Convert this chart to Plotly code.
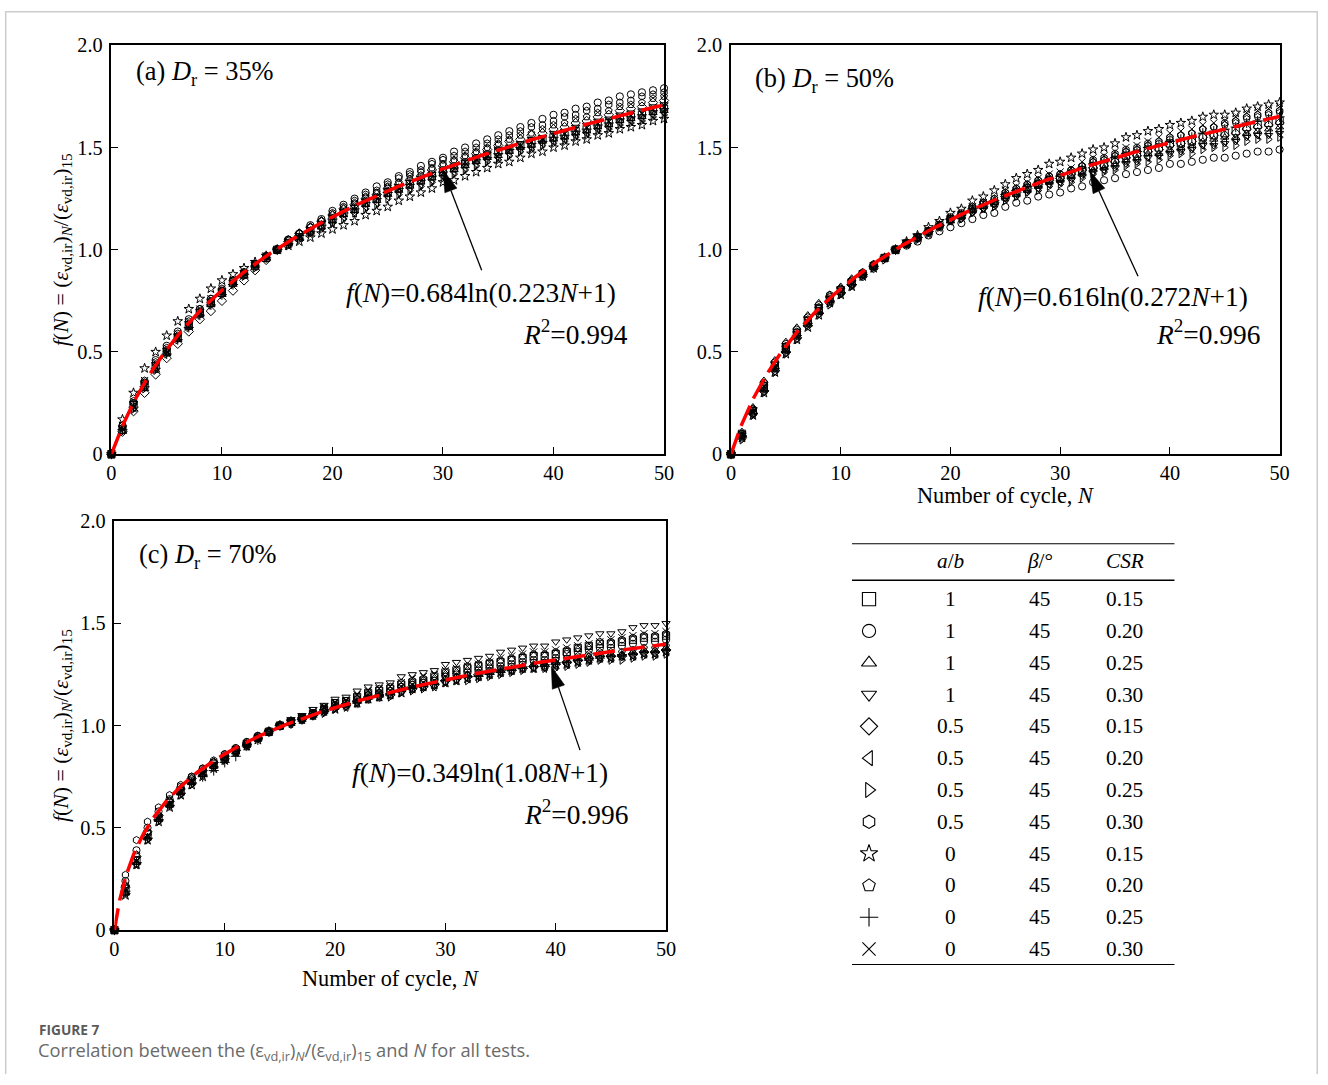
import numpy as np
import plotly.graph_objects as go

# ---------------- data ----------------
N = list(range(51))

# Panel (a) Dr = 35 %
a_sq = [0, .12, .24, .34, .43, .50, .57, .63, .69, .74, .79, .84, .88, .92, .96, 1.00,
        1.03, 1.06, 1.09, 1.12, 1.15, 1.18, 1.20, 1.23, 1.25, 1.28, 1.30, 1.32, 1.34, 1.36, 1.38,
        1.40, 1.42, 1.44, 1.46, 1.48, 1.49, 1.51, 1.52, 1.54, 1.55, 1.56, 1.58, 1.59, 1.61, 1.62,
        1.64, 1.65, 1.66, 1.68, 1.69]
a_ci = [0, .14, .25, .35, .46, .53, .60, .66, .71, .76, .80, .85, .89, .93, .97, 1.00,
        1.05, 1.08, 1.12, 1.15, 1.19, 1.22, 1.25, 1.28, 1.31, 1.33, 1.36, 1.38, 1.41, 1.43, 1.45,
        1.48, 1.50, 1.52, 1.54, 1.56, 1.58, 1.60, 1.62, 1.64, 1.66, 1.67, 1.69, 1.70, 1.72, 1.73,
        1.75, 1.76, 1.77, 1.78, 1.79]
a_tu = [0, .11, .22, .32, .41, .49, .56, .62, .68, .73, .78, .83, .87, .92, .96, 1.00,
        1.03, 1.06, 1.09, 1.11, 1.14, 1.17, 1.19, 1.22, 1.24, 1.27, 1.29, 1.31, 1.33, 1.35, 1.37,
        1.39, 1.41, 1.43, 1.45, 1.46, 1.48, 1.50, 1.51, 1.53, 1.54, 1.55, 1.57, 1.58, 1.60, 1.61,
        1.63, 1.64, 1.65, 1.67, 1.68]
a_td = [0, .13, .25, .35, .44, .51, .58, .64, .70, .75, .80, .84, .89, .93, .97, 1.00,
        1.04, 1.07, 1.10, 1.13, 1.16, 1.19, 1.21, 1.24, 1.26, 1.29, 1.31, 1.33, 1.35, 1.37, 1.39,
        1.41, 1.43, 1.45, 1.47, 1.49, 1.50, 1.52, 1.54, 1.55, 1.57, 1.58, 1.60, 1.61, 1.63, 1.64,
        1.66, 1.67, 1.68, 1.70, 1.71]
a_di = [0, .11, .21, .30, .39, .47, .54, .60, .66, .70, .75, .80, .85, .90, .95, 1.00,
        1.04, 1.08, 1.11, 1.14, 1.17, 1.20, 1.22, 1.25, 1.27, 1.30, 1.32, 1.34, 1.36, 1.39, 1.41,
        1.43, 1.45, 1.47, 1.49, 1.51, 1.53, 1.54, 1.56, 1.57, 1.59, 1.60, 1.62, 1.63, 1.65, 1.66,
        1.68, 1.69, 1.70, 1.72, 1.73]
a_tl = [0, .12, .23, .33, .42, .50, .57, .63, .69, .74, .79, .84, .88, .92, .96, 1.00,
        1.03, 1.06, 1.08, 1.11, 1.13, 1.16, 1.18, 1.21, 1.23, 1.26, 1.28, 1.30, 1.32, 1.34, 1.36,
        1.38, 1.40, 1.42, 1.44, 1.45, 1.47, 1.49, 1.50, 1.52, 1.53, 1.54, 1.56, 1.57, 1.59, 1.60,
        1.62, 1.63, 1.64, 1.66, 1.67]
a_tr = [0, .11, .22, .32, .41, .49, .56, .62, .68, .73, .78, .83, .87, .91, .96, 1.00,
        1.02, 1.05, 1.08, 1.10, 1.13, 1.15, 1.18, 1.20, 1.22, 1.25, 1.27, 1.29, 1.31, 1.33, 1.35,
        1.37, 1.39, 1.41, 1.43, 1.44, 1.46, 1.48, 1.49, 1.51, 1.52, 1.53, 1.55, 1.56, 1.58, 1.59,
        1.61, 1.62, 1.63, 1.65, 1.66]
a_hx = [0, .14, .26, .36, .45, .52, .59, .65, .71, .76, .81, .85, .89, .93, .97, 1.00,
        1.05, 1.08, 1.11, 1.14, 1.18, 1.21, 1.24, 1.27, 1.29, 1.32, 1.35, 1.37, 1.39, 1.42, 1.44,
        1.46, 1.48, 1.50, 1.52, 1.54, 1.56, 1.58, 1.60, 1.61, 1.63, 1.65, 1.66, 1.68, 1.69, 1.71,
        1.72, 1.73, 1.75, 1.76, 1.77]
a_st = [0, .17, .30, .42, .50, .58, .65, .71, .76, .81, .85, .88, .91, .94, .97, 1.00,
        1.02, 1.04, 1.06, 1.08, 1.10, 1.12, 1.14, 1.17, 1.19, 1.21, 1.24, 1.26, 1.28, 1.30, 1.33,
        1.34, 1.36, 1.38, 1.40, 1.42, 1.43, 1.45, 1.47, 1.48, 1.50, 1.51, 1.53, 1.54, 1.56, 1.57,
        1.59, 1.60, 1.61, 1.63, 1.64]
a_pe = [0, .13, .25, .35, .44, .51, .58, .64, .70, .75, .80, .85, .89, .93, .97, 1.00,
        1.05, 1.08, 1.11, 1.14, 1.17, 1.20, 1.23, 1.26, 1.28, 1.31, 1.33, 1.36, 1.38, 1.40, 1.42,
        1.44, 1.46, 1.48, 1.50, 1.52, 1.54, 1.56, 1.57, 1.59, 1.61, 1.62, 1.64, 1.65, 1.67, 1.68,
        1.70, 1.71, 1.72, 1.74, 1.75]
a_pl = [0, .12, .23, .33, .42, .49, .56, .62, .68, .73, .78, .83, .88, .92, .96, 1.00,
        1.03, 1.07, 1.09, 1.12, 1.15, 1.18, 1.20, 1.23, 1.25, 1.28, 1.30, 1.32, 1.34, 1.36, 1.38,
        1.40, 1.42, 1.44, 1.45, 1.47, 1.49, 1.50, 1.52, 1.53, 1.55, 1.56, 1.58, 1.59, 1.61, 1.62,
        1.64, 1.65, 1.66, 1.68, 1.69]
a_xx = [0, .14, .26, .36, .45, .52, .59, .65, .71, .76, .81, .85, .89, .93, .97, 1.00,
        1.04, 1.07, 1.10, 1.13, 1.16, 1.18, 1.21, 1.23, 1.26, 1.28, 1.30, 1.33, 1.35, 1.37, 1.39,
        1.41, 1.43, 1.44, 1.46, 1.48, 1.50, 1.51, 1.53, 1.54, 1.56, 1.57, 1.59, 1.60, 1.62, 1.63,
        1.65, 1.66, 1.67, 1.69, 1.70]

# Panel (b) Dr = 50 %
b_sq = [0, .10, .21, .33, .43, .52, .59, .65, .71, .76, .80, .84, .88, .92, .96, 1.00,
        1.03, 1.06, 1.09, 1.12, 1.15, 1.17, 1.20, 1.22, 1.23, 1.26, 1.28, 1.30, 1.32, 1.34, 1.35,
        1.37, 1.39, 1.41, 1.42, 1.44, 1.46, 1.47, 1.49, 1.50, 1.52, 1.52, 1.53, 1.55, 1.56, 1.57,
        1.58, 1.60, 1.61, 1.62, 1.63]
b_ci = [0, .09, .20, .32, .42, .51, .58, .64, .70, .75, .79, .83, .88, .92, .96, 1.00,
        1.02, 1.04, 1.07, 1.09, 1.11, 1.13, 1.15, 1.17, 1.18, 1.21, 1.23, 1.24, 1.26, 1.27, 1.28,
        1.30, 1.31, 1.33, 1.34, 1.35, 1.37, 1.38, 1.39, 1.40, 1.42, 1.42, 1.43, 1.44, 1.45, 1.45,
        1.46, 1.47, 1.48, 1.48, 1.49]
b_tu = [0, .11, .23, .36, .46, .55, .62, .68, .74, .78, .82, .86, .89, .93, .96, 1.00,
        1.03, 1.06, 1.09, 1.12, 1.14, 1.16, 1.19, 1.21, 1.23, 1.26, 1.27, 1.29, 1.31, 1.33, 1.34,
        1.36, 1.37, 1.39, 1.40, 1.42, 1.44, 1.45, 1.47, 1.47, 1.49, 1.50, 1.51, 1.53, 1.54, 1.55,
        1.55, 1.57, 1.58, 1.59, 1.60]
b_td = [0, .10, .22, .33, .44, .52, .59, .66, .71, .76, .81, .84, .88, .92, .96, 1.00,
        1.03, 1.05, 1.08, 1.11, 1.14, 1.15, 1.18, 1.20, 1.22, 1.25, 1.26, 1.28, 1.30, 1.32, 1.33,
        1.34, 1.36, 1.38, 1.39, 1.40, 1.42, 1.43, 1.45, 1.46, 1.47, 1.48, 1.49, 1.51, 1.51, 1.52,
        1.53, 1.55, 1.56, 1.56, 1.57]
b_di = [0, .08, .20, .31, .41, .50, .57, .63, .69, .74, .79, .83, .87, .91, .96, 1.00,
        1.03, 1.06, 1.09, 1.12, 1.15, 1.17, 1.19, 1.21, 1.23, 1.26, 1.28, 1.30, 1.32, 1.34, 1.35,
        1.37, 1.39, 1.40, 1.41, 1.43, 1.45, 1.46, 1.48, 1.49, 1.51, 1.52, 1.53, 1.55, 1.56, 1.56,
        1.57, 1.59, 1.60, 1.61, 1.62]
b_tl = [0, .09, .20, .32, .42, .51, .58, .64, .70, .75, .79, .83, .88, .92, .96, 1.00,
        1.03, 1.06, 1.08, 1.11, 1.14, 1.16, 1.19, 1.20, 1.22, 1.25, 1.27, 1.29, 1.30, 1.32, 1.33,
        1.35, 1.37, 1.38, 1.39, 1.41, 1.43, 1.44, 1.45, 1.46, 1.48, 1.49, 1.50, 1.51, 1.52, 1.53,
        1.54, 1.56, 1.56, 1.57, 1.58]
b_tr = [0, .07, .19, .30, .40, .49, .56, .63, .68, .73, .78, .82, .87, .91, .95, 1.00,
        1.03, 1.05, 1.08, 1.11, 1.14, 1.15, 1.18, 1.20, 1.21, 1.24, 1.26, 1.28, 1.29, 1.31, 1.32,
        1.33, 1.35, 1.37, 1.38, 1.39, 1.41, 1.42, 1.43, 1.44, 1.46, 1.47, 1.47, 1.49, 1.50, 1.50,
        1.51, 1.53, 1.54, 1.54, 1.55]
b_hx = [0, .10, .22, .35, .45, .54, .61, .67, .73, .78, .81, .85, .89, .93, .96, 1.00,
        1.03, 1.06, 1.09, 1.12, 1.16, 1.18, 1.21, 1.23, 1.25, 1.28, 1.30, 1.32, 1.34, 1.36, 1.37,
        1.39, 1.41, 1.44, 1.45, 1.47, 1.49, 1.50, 1.52, 1.53, 1.55, 1.56, 1.57, 1.59, 1.60, 1.62,
        1.63, 1.65, 1.66, 1.67, 1.68]
b_st = [0, .08, .19, .30, .40, .49, .56, .62, .68, .74, .78, .82, .87, .91, .96, 1.00,
        1.04, 1.07, 1.11, 1.14, 1.18, 1.20, 1.24, 1.26, 1.29, 1.32, 1.35, 1.37, 1.39, 1.42, 1.43,
        1.45, 1.47, 1.49, 1.50, 1.52, 1.55, 1.56, 1.58, 1.59, 1.61, 1.62, 1.63, 1.65, 1.66, 1.66,
        1.67, 1.69, 1.70, 1.71, 1.72]
b_pe = [0, .09, .22, .34, .44, .53, .60, .66, .72, .77, .81, .85, .88, .92, .96, 1.00,
        1.03, 1.06, 1.09, 1.12, 1.15, 1.17, 1.20, 1.23, 1.25, 1.28, 1.30, 1.32, 1.34, 1.36, 1.37,
        1.39, 1.41, 1.43, 1.44, 1.46, 1.48, 1.49, 1.51, 1.52, 1.54, 1.56, 1.57, 1.59, 1.60, 1.61,
        1.62, 1.64, 1.65, 1.66, 1.67]
b_pl = [0, .09, .20, .31, .42, .50, .58, .64, .69, .75, .79, .83, .88, .92, .96, 1.00,
        1.03, 1.06, 1.09, 1.12, 1.15, 1.17, 1.20, 1.22, 1.24, 1.27, 1.29, 1.31, 1.33, 1.35, 1.36,
        1.38, 1.40, 1.42, 1.43, 1.45, 1.47, 1.48, 1.50, 1.51, 1.53, 1.54, 1.55, 1.57, 1.58, 1.59,
        1.60, 1.62, 1.63, 1.64, 1.65]
b_xx = [0, .09, .21, .33, .43, .52, .59, .65, .71, .76, .80, .84, .88, .92, .96, 1.00,
        1.03, 1.06, 1.09, 1.13, 1.16, 1.18, 1.21, 1.23, 1.25, 1.29, 1.31, 1.33, 1.35, 1.37, 1.38,
        1.40, 1.43, 1.45, 1.46, 1.48, 1.50, 1.51, 1.53, 1.55, 1.57, 1.58, 1.59, 1.61, 1.62, 1.63,
        1.65, 1.67, 1.68, 1.69, 1.70]

# Panel (c) Dr = 70 %
c_sq = [0, .19, .34, .47, .55, .62, .68, .73, .77, .81, .84, .88, .91, .94, .97, 1.00,
        1.02, 1.04, 1.06, 1.08, 1.11, 1.12, 1.14, 1.16, 1.17, 1.18, 1.20, 1.21, 1.22, 1.24, 1.26,
        1.27, 1.28, 1.29, 1.30, 1.31, 1.32, 1.33, 1.34, 1.34, 1.35, 1.36, 1.38, 1.39, 1.40, 1.40,
        1.41, 1.42, 1.43, 1.43, 1.44]
c_ci = [0, .24, .39, .50, .58, .64, .70, .75, .79, .82, .86, .89, .92, .95, .97, 1.00,
        1.02, 1.04, 1.06, 1.08, 1.10, 1.11, 1.13, 1.15, 1.16, 1.17, 1.19, 1.20, 1.21, 1.22, 1.24,
        1.25, 1.26, 1.27, 1.28, 1.29, 1.30, 1.31, 1.32, 1.32, 1.33, 1.35, 1.36, 1.37, 1.38, 1.38,
        1.39, 1.40, 1.41, 1.41, 1.42]
c_tu = [0, .18, .33, .45, .54, .61, .67, .72, .76, .80, .84, .87, .91, .94, .97, 1.00,
        1.01, 1.03, 1.05, 1.07, 1.09, 1.10, 1.12, 1.14, 1.15, 1.16, 1.18, 1.19, 1.20, 1.21, 1.23,
        1.24, 1.25, 1.25, 1.26, 1.27, 1.28, 1.29, 1.30, 1.30, 1.31, 1.32, 1.33, 1.34, 1.35, 1.35,
        1.35, 1.36, 1.37, 1.37, 1.38]
c_td = [0, .21, .35, .46, .55, .62, .68, .73, .77, .81, .84, .88, .91, .94, .97, 1.00,
        1.03, 1.05, 1.08, 1.10, 1.13, 1.14, 1.17, 1.19, 1.20, 1.21, 1.24, 1.25, 1.26, 1.27, 1.30,
        1.31, 1.32, 1.33, 1.34, 1.36, 1.37, 1.38, 1.39, 1.39, 1.41, 1.42, 1.43, 1.44, 1.45, 1.45,
        1.46, 1.48, 1.49, 1.49, 1.50]
c_di = [0, .21, .36, .48, .56, .63, .69, .74, .78, .82, .85, .88, .91, .94, .97, 1.00,
        1.01, 1.03, 1.05, 1.07, 1.09, 1.10, 1.12, 1.14, 1.15, 1.15, 1.17, 1.18, 1.19, 1.20, 1.22,
        1.23, 1.24, 1.25, 1.26, 1.27, 1.27, 1.28, 1.29, 1.29, 1.30, 1.31, 1.32, 1.33, 1.34, 1.34,
        1.34, 1.35, 1.36, 1.36, 1.37]
c_tl = [0, .18, .32, .45, .54, .61, .67, .72, .76, .80, .84, .87, .90, .94, .97, 1.00,
        1.01, 1.03, 1.05, 1.07, 1.09, 1.09, 1.11, 1.13, 1.14, 1.15, 1.17, 1.18, 1.19, 1.19, 1.21,
        1.22, 1.23, 1.24, 1.25, 1.26, 1.27, 1.28, 1.28, 1.28, 1.29, 1.30, 1.31, 1.32, 1.33, 1.33,
        1.34, 1.34, 1.35, 1.35, 1.36]
c_tr = [0, .18, .32, .44, .53, .61, .66, .71, .76, .80, .83, .87, .90, .94, .97, 1.00,
        1.01, 1.03, 1.05, 1.06, 1.08, 1.09, 1.11, 1.13, 1.14, 1.14, 1.16, 1.17, 1.18, 1.19, 1.21,
        1.22, 1.22, 1.23, 1.24, 1.25, 1.26, 1.27, 1.28, 1.28, 1.28, 1.29, 1.30, 1.31, 1.32, 1.32,
        1.32, 1.33, 1.34, 1.34, 1.35]
c_hx = [0, .27, .44, .53, .60, .66, .71, .75, .79, .83, .86, .89, .92, .95, .97, 1.00,
        1.02, 1.04, 1.06, 1.09, 1.11, 1.12, 1.14, 1.16, 1.18, 1.19, 1.21, 1.22, 1.23, 1.24, 1.26,
        1.27, 1.29, 1.30, 1.31, 1.32, 1.33, 1.34, 1.35, 1.35, 1.36, 1.37, 1.38, 1.39, 1.41, 1.41,
        1.42, 1.43, 1.44, 1.44, 1.45]
c_st = [0, .17, .32, .44, .53, .60, .66, .71, .75, .79, .83, .87, .90, .93, .97, 1.00,
        1.02, 1.03, 1.05, 1.07, 1.08, 1.10, 1.11, 1.13, 1.14, 1.15, 1.16, 1.18, 1.19, 1.20, 1.21,
        1.22, 1.23, 1.24, 1.25, 1.26, 1.27, 1.28, 1.28, 1.29, 1.30, 1.30, 1.31, 1.32, 1.33, 1.33,
        1.34, 1.34, 1.35, 1.35, 1.36]
c_pe = [0, .22, .37, .48, .56, .63, .69, .74, .78, .82, .85, .88, .91, .94, .97, 1.00,
        1.02, 1.04, 1.06, 1.08, 1.10, 1.11, 1.13, 1.15, 1.16, 1.17, 1.19, 1.20, 1.21, 1.22, 1.24,
        1.24, 1.25, 1.26, 1.27, 1.28, 1.29, 1.30, 1.31, 1.31, 1.32, 1.33, 1.34, 1.35, 1.36, 1.36,
        1.36, 1.37, 1.38, 1.38, 1.39]
c_pl = [0, .19, .33, .45, .54, .61, .67, .72, .75, .78, .82, .85, .90, .93, .97, 1.00,
        1.01, 1.03, 1.05, 1.07, 1.09, 1.10, 1.11, 1.13, 1.14, 1.15, 1.17, 1.18, 1.19, 1.20, 1.22,
        1.23, 1.24, 1.24, 1.25, 1.26, 1.27, 1.28, 1.29, 1.29, 1.30, 1.31, 1.32, 1.32, 1.33, 1.34,
        1.34, 1.35, 1.36, 1.36, 1.37]
c_xx = [0, .20, .34, .46, .55, .62, .68, .73, .77, .81, .85, .88, .91, .94, .97, 1.00,
        1.02, 1.04, 1.07, 1.09, 1.11, 1.12, 1.15, 1.17, 1.18, 1.19, 1.21, 1.23, 1.24, 1.25, 1.27,
        1.28, 1.29, 1.30, 1.31, 1.33, 1.34, 1.35, 1.36, 1.36, 1.37, 1.38, 1.39, 1.40, 1.41, 1.42,
        1.43, 1.44, 1.45, 1.45, 1.46]

# fitted curves f(N) = p * ln(q*N + 1)
FIT_A = (0.684, 0.223)
FIT_B = (0.616, 0.272)
FIT_C = (0.349, 1.08)

# legend table
SYMBOLS = ["square-open", "circle-open", "triangle-up-open", "triangle-down-open",
           "diamond-open", "triangle-left-open", "triangle-right-open", "hexagon-open",
           "star-open", "pentagon-open", "cross-thin-open", "x-thin-open"]
TABLE_AB = ["1", "1", "1", "1", "0.5", "0.5", "0.5", "0.5", "0", "0", "0", "0"]
TABLE_BETA = ["45"] * 12
TABLE_CSR = ["0.15", "0.20", "0.25", "0.30"] * 3

PANEL_A = [a_sq, a_ci, a_tu, a_td, a_di, a_tl, a_tr, a_hx, a_st, a_pe, a_pl, a_xx]
PANEL_B = [b_sq, b_ci, b_tu, b_td, b_di, b_tl, b_tr, b_hx, b_st, b_pe, b_pl, b_xx]
PANEL_C = [c_sq, c_ci, c_tu, c_td, c_di, c_tl, c_tr, c_hx, c_st, c_pe, c_pl, c_xx]

# ---------------- figure ----------------
W, H = 1328, 1085
SERIF = "Liberation Serif"
# the photographed page is slightly shrunk and offset; positions below are the
# wanted positions in the final picture and are mapped back to page coordinates
SX, OX = 0.9894, 4.5
SY, OY = 0.980, 10.7
FS = 1 / 0.985


def px(x):
    return min(max(((x - OX) / SX) / W, 0.0), 1.0)


def py(y):
    return min(max(1 - ((y - OY) / SY) / H, 0.0), 1.0)


def fs(s):
    return round(s * FS, 1)


# panel boxes in picture pixels: left, right, top, bottom
BOX_A = (111, 664, 45, 454)
BOX_B = (731, 1280, 45, 454)
BOX_C = (114, 666, 521, 930)

fig = go.Figure()

panels = [
    (PANEL_A, FIT_A, "x", "y"),
    (PANEL_B, FIT_B, "x2", "y2"),
    (PANEL_C, FIT_C, "x3", "y3"),
]
for series, (p, q), xa, ya in panels:
    xs, ys, syms = [], [], []
    for vals, sym in zip(series, SYMBOLS):
        xs += N
        ys += vals
        syms += [sym] * len(vals)
    fig.add_trace(go.Scatter(
        x=xs, y=ys, mode="markers", xaxis=xa, yaxis=ya, cliponaxis=False,
        marker=dict(symbol=syms, size=7.2, color="black",
                    line=dict(width=1, color="black")),
        showlegend=False, hoverinfo="skip"))
    nn = np.linspace(0, 50, 501)
    fig.add_trace(go.Scatter(
        x=nn, y=p * np.log(q * nn + 1), mode="lines", xaxis=xa, yaxis=ya,
        line=dict(color="#ff0000", width=3.5, dash="22px,8px"),
        showlegend=False, hoverinfo="skip"))

# legend table markers
rows = list(range(len(SYMBOLS)))
fig.add_trace(go.Scatter(
    x=[0.053] * len(rows), y=rows, mode="markers", xaxis="x4", yaxis="y4",
    marker=dict(symbol=SYMBOLS, size=13.2, color="black", line=dict(width=1.1, color="black")),
    showlegend=False, hoverinfo="skip", cliponaxis=False))

axis_common = dict(showline=True, linecolor="black", linewidth=1.5, mirror=True,
                   ticks="inside", ticklen=7, tickwidth=1.2, tickcolor="black",
                   showgrid=False, zeroline=False,
                   tickfont=dict(family=SERIF, size=fs(20), color="black"))
xt = dict(range=[0, 50], tickvals=[0, 10, 20, 30, 40, 50], **axis_common)
yt = dict(range=[0, 2], tickvals=[0, 0.5, 1.0, 1.5, 2.0], ticklabelstandoff=3,
          ticktext=["0", "0.5", "1.0", "1.5", "2.0"], **axis_common)

# table geometry (picture pixels)
T_LEFT, T_RIGHT, T_TOP, T_BOT = 852, 1175, 543, 965
ROW0, ROWSTEP = 599, (949 - 599) / 11
fig.update_layout(
    width=W, height=H, margin=dict(l=0, r=0, t=0, b=0),
    paper_bgcolor="white", plot_bgcolor="white",
    xaxis=dict(domain=[px(BOX_A[0]), px(BOX_A[1])], anchor="y", **xt),
    yaxis=dict(domain=[py(BOX_A[3]), py(BOX_A[2])], anchor="x", **yt),
    xaxis2=dict(domain=[px(BOX_B[0]), px(BOX_B[1])], anchor="y2", **xt),
    yaxis2=dict(domain=[py(BOX_B[3]), py(BOX_B[2])], anchor="x2", **yt),
    xaxis3=dict(domain=[px(BOX_C[0]), px(BOX_C[1])], anchor="y3", **xt),
    yaxis3=dict(domain=[py(BOX_C[3]), py(BOX_C[2])], anchor="x3", **yt),
    xaxis4=dict(domain=[px(T_LEFT), px(T_RIGHT)], anchor="y4", range=[0, 1], visible=False),
    yaxis4=dict(domain=[py(T_BOT), py(T_TOP)], anchor="x4",
                range=[(T_BOT - ROW0) / ROWSTEP, (T_TOP - ROW0) / ROWSTEP], visible=False),
)

ann = []
# table body text (paper coordinates derived from row index)
for col_x, col_vals in ((951, TABLE_AB), (1040, TABLE_BETA), (1125, TABLE_CSR)):
    for r, v in zip(rows, col_vals):
        ann.append(dict(text="<span>" + v + "</span>", xref="paper", yref="paper", x=px(col_x),
                        y=py(ROW0 + r * ROWSTEP), showarrow=False,
                        xanchor="center", yanchor="middle",
                        font=dict(family=SERIF, size=fs(21), color="black")))

# panel labels
for lab, xr, yr, yy in (("(a) <i>D</i><sub>r</sub> = 35%", "x domain", "y domain", 0.932),
                        ("(b) <i>D</i><sub>r</sub> = 50%", "x2 domain", "y2 domain", 0.914),
                        ("(c) <i>D</i><sub>r</sub> = 70%", "x3 domain", "y3 domain", 0.914)):
    ann.append(dict(text=lab, xref=xr, yref=yr, x=0.041, y=yy, xanchor="left",
                    yanchor="middle", showarrow=False,
                    font=dict(family=SERIF, size=fs(26), color="black")))

shapes = []

# fit equations and arrows
eqs = [
    ("x", "y", BOX_A, "<i>f</i>(<i>N</i>)=0.684ln(0.223<i>N</i>+1)", "0.994",
     (45.8, 0.787), (46.9, 0.597), (30.0, 1.39), (33.5, 0.90)),
    ("x2", "y2", BOX_B, "<i>f</i>(<i>N</i>)=0.616ln(0.272<i>N</i>+1)", "0.996",
     (47.3, 0.768), (48.4, 0.597), (32.7, 1.385), (37.1, 0.87)),
    ("x3", "y3", BOX_C, "<i>f</i>(<i>N</i>)=0.349ln(1.08<i>N</i>+1)", "0.996",
     (44.9, 0.768), (46.7, 0.577), (39.6, 1.29), (42.2, 0.88)),
]
HEAD_LEN, HEAD_HALF = 22.0, 6.5
for xa, ya, box, eq, r2, peq, pr2, tip, tail in eqs:
    ann.append(dict(text=eq, xref=xa, yref=ya, x=peq[0], y=peq[1], xanchor="right",
                    yanchor="middle", showarrow=False,
                    font=dict(family=SERIF, size=fs(27), color="black")))
    ann.append(dict(text="<i>R</i><sup>2</sup>=" + r2, xref=xa, yref=ya, x=pr2[0], y=pr2[1],
                    xanchor="right", yanchor="middle", showarrow=False,
                    font=dict(family=SERIF, size=fs(27), color="black")))
    # arrow drawn as a line plus a filled head, sized in picture pixels
    kx = (box[1] - box[0]) / 50.0
    ky = (box[3] - box[2]) / 2.0
    vx, vy = (tail[0] - tip[0]) * kx, (tail[1] - tip[1]) * ky
    ln = np.hypot(vx, vy)
    ux, uy = vx / ln, vy / ln
    bx, by = ux * HEAD_LEN, uy * HEAD_LEN
    qx, qy = -uy * HEAD_HALF, ux * HEAD_HALF
    base = (tip[0] + bx / kx, tip[1] + by / ky)
    c1 = (tip[0] + (bx + qx) / kx, tip[1] + (by + qy) / ky)
    c2 = (tip[0] + (bx - qx) / kx, tip[1] + (by - qy) / ky)
    shapes.append(dict(type="line", xref=xa, yref=ya, x0=tail[0], y0=tail[1],
                       x1=base[0], y1=base[1], line=dict(color="black", width=1.3)))
    shapes.append(dict(type="path", xref=xa, yref=ya,
                       path=f"M{tip[0]},{tip[1]} L{c1[0]},{c1[1]} L{c2[0]},{c2[1]} Z",
                       fillcolor="black", line=dict(color="black", width=0.5)))

# axis titles
ytitle = ("<i>f</i>(<i>N</i>) = (<i>ε</i><sub>vd,ir</sub>)<sub><i>N</i></sub>"
          "/(<i>ε</i><sub>vd,ir</sub>)<sub>15</sub>")
for yc in ((BOX_A[2] + BOX_A[3]) / 2, (BOX_C[2] + BOX_C[3]) / 2):
    ann.append(dict(text=ytitle, xref="paper", yref="paper", x=px(62), y=py(yc),
                    textangle=-90, showarrow=False, xanchor="center", yanchor="middle",
                    font=dict(family=SERIF, size=fs(21.5), color="black")))
for xc, yc in (((BOX_B[0] + BOX_B[1]) / 2, 495), (390, 978)):
    ann.append(dict(text="Number of cycle, <i>N</i>", xref="paper", yref="paper",
                    x=px(xc), y=py(yc), showarrow=False, xanchor="center", yanchor="middle",
                    font=dict(family=SERIF, size=fs(22), color="black")))

# table header
for hx, htxt in ((951, "<i>a</i>/<i>b</i>"), (1040, "<i>β</i>/°"), (1125, "<i>CSR</i>")):
    ann.append(dict(text=htxt, xref="paper", yref="paper", x=px(hx), y=py(561), showarrow=False,
                    xanchor="center", yanchor="middle",
                    font=dict(family=SERIF, size=fs(21), color="black")))

# caption
ann.append(dict(text="<b>FIGURE 7</b>", xref="paper", yref="paper", x=px(37), y=py(1029),
                xanchor="left", yanchor="middle", showarrow=False,
                font=dict(family="Open Sans", size=fs(13.5), color="#5a5a5a")))
ann.append(dict(text="Correlation between the (ε<sub>vd,ir</sub>)<sub><i>N</i></sub>/(ε<sub>vd,ir</sub>)"
                     "<sub>15</sub> and <i>N</i> for all tests.",
                xref="paper", yref="paper", x=px(36), y=py(1051),
                xanchor="left", yanchor="middle", showarrow=False,
                font=dict(family="Open Sans", size=fs(18), color="#6a6a6a")))


def row_y(t):
    return (t - ROW0) / ROWSTEP


shapes += [
    # table rules
    dict(type="line", xref="x4", yref="y4", x0=0, x1=1, y0=row_y(T_TOP), y1=row_y(T_TOP),
         line=dict(color="black", width=2)),
    dict(type="line", xref="x4", yref="y4", x0=0, x1=1, y0=row_y(580), y1=row_y(580),
         line=dict(color="black", width=1.5)),
    dict(type="line", xref="x4", yref="y4", x0=0, x1=1, y0=row_y(T_BOT), y1=row_y(T_BOT),
         line=dict(color="black", width=2)),
    # page frame (as close to the picture edge as the page allows)
    dict(type="line", xref="paper", yref="paper", x0=px(5.2), x1=px(5.2), y0=0, y1=1,
         line=dict(color="#cccccc", width=1.5)),
    dict(type="line", xref="paper", yref="paper", x0=px(5.2), x1=1 - 0.8 / W, y0=1 - 0.8 / H,
         y1=1 - 0.8 / H, line=dict(color="#cccccc", width=1.5)),
    dict(type="line", xref="paper", yref="paper", x0=1 - 0.8 / W, x1=1 - 0.8 / W, y0=0, y1=1,
         line=dict(color="#cccccc", width=1.5)),
]

fig.update_layout(annotations=ann, shapes=shapes)
fig.write_html(
    "out.html",
    config={"displayModeBar": False},
    post_script=("document.body.style.margin='0';document.body.style.padding='0';"
                 "document.documentElement.style.overflow='hidden';"),
)
